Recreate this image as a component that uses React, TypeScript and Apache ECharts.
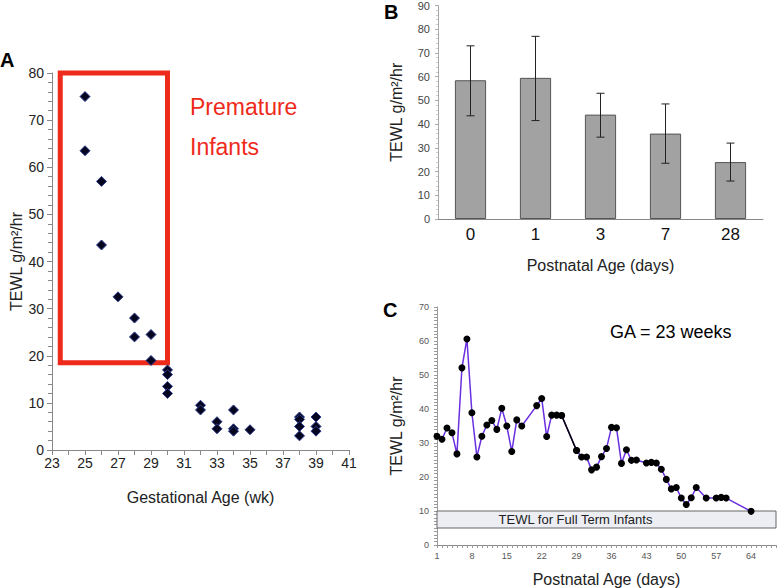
import React, { useEffect, useRef } from "react";
import * as echarts from "echarts";

// Panel A: gestational age (wk) vs TEWL
const gaWeeks = [25, 25, 26, 26, 27, 28, 28, 29, 29, 30, 30, 30, 30, 32, 32, 33, 33, 34, 34, 34, 35, 38, 38, 38, 38, 39, 39, 39];
const gaTewl = [75, 63.5, 57, 43.5, 32.5, 28, 24, 24.5, 19, 17, 16, 13.5, 12, 9.5, 8.5, 6, 4.5, 8.5, 4.5, 4, 4.3, 7, 6.5, 5, 3, 7, 5, 4];
const prematureBox = { x0: 23.5, x1: 30, y0: 18.5, y1: 80 };

// Panel B: postnatal age vs mean TEWL with error bars
const bCategories = ["0", "1", "3", "7", "28"];
const bMeans = [58.5, 59.5, 44, 36, 24];
const bLow = [43.5, 41.5, 34.5, 23.5, 16];
const bHigh = [73, 77, 53, 48.5, 32];

// Panel C: one infant, GA = 23 weeks
const cDays = [1, 2, 3, 4, 5, 6, 7, 8, 9, 10, 11, 12, 13, 14, 15, 16, 17, 18, 21, 22, 23, 24, 25, 26, 29, 30, 31, 32, 33, 34, 35, 36, 37, 38, 39, 40, 41, 43, 44, 45, 46, 47, 48, 49, 50, 51, 52, 53, 55, 57, 58, 59, 64];
const cTewl = [32, 31.1, 34.4, 33, 26.8, 52.1, 60.6, 38.9, 25.9, 32, 35.3, 36.6, 34, 40.2, 35, 27.5, 36.8, 35, 41, 43.1, 31.9, 38.2, 38.2, 38.1, 27.8, 25.9, 25.9, 22.1, 22.9, 26, 28.4, 34.6, 34.5, 24, 28, 24.9, 25, 24.1, 24.3, 24.1, 22.3, 19.3, 16.5, 16.9, 13.8, 11.9, 13.9, 16.9, 13.8, 13.8, 14, 13.8, 9.9];
const blackSegmentDays = [26, 29];
const fullTermBand = [5, 10];

const FONT = "Liberation Sans, Arial, Helvetica, sans-serif";

export default function App() {
  const ref = useRef<HTMLDivElement>(null);

  useEffect(() => {
    if (!ref.current) return;
    const chart = echarts.init(ref.current, null, { renderer: "svg" });

    const scatterData = gaWeeks.map((x, i) => [x, gaTewl[i]]);
    const cData = cDays.map((d, i) => [d, cTewl[i]]);
    const blackSeg = cData.filter((p) => p[0] >= blackSegmentDays[0] && p[0] <= blackSegmentDays[1]);
    const errData = bCategories.map((_, i) => [i, bLow[i], bHigh[i]]);

    const axisLine = { lineStyle: { color: "#888", width: 1 } };

    chart.setOption({
      animation: false,
      textStyle: { fontFamily: FONT },
      grid: [
        { left: 52, top: 73, width: 297, height: 377 },
        { left: 438, top: 4, width: 325, height: 215 },
        { left: 437, top: 307, width: 339, height: 241 },
      ],
      xAxis: [
        {
          gridIndex: 0,
          type: "value",
          min: 23,
          max: 41,
          interval: 2,
          axisLine,
          axisTick: { show: true, length: 5, lineStyle: { color: "#888" } },
          minorTick: { show: true, splitNumber: 2, length: 5, lineStyle: { color: "#888" } },
          splitLine: { show: false },
          axisLabel: { fontSize: 14, color: "#222", fontFamily: FONT, margin: 6 },
          name: "Gestational Age (wk)",
          nameLocation: "middle",
          nameGap: 39,
          nameTextStyle: { fontSize: 16, color: "#222", fontFamily: FONT },
        },
        {
          gridIndex: 1,
          type: "category",
          data: bCategories,
          axisLine,
          axisTick: { show: false },
          axisLabel: { fontSize: 17, color: "#111", fontFamily: FONT, margin: 7 },
          name: "Postnatal Age (days)",
          nameLocation: "middle",
          nameGap: 38,
          nameTextStyle: { fontSize: 16, color: "#222", fontFamily: FONT },
        },
        {
          gridIndex: 2,
          type: "value",
          min: 1,
          max: 69,
          interval: 7,
          axisLine,
          axisTick: { show: true, length: 3, lineStyle: { color: "#999" } },
          minorTick: { show: true, splitNumber: 7, length: 3, lineStyle: { color: "#999" } },
          splitLine: { show: false },
          axisLabel: { fontSize: 9, color: "#555", fontFamily: FONT, margin: 6, showMaxLabel: false },
          name: "Postnatal Age (days)",
          nameLocation: "middle",
          nameGap: 26,
          nameTextStyle: { fontSize: 16, color: "#222", fontFamily: FONT },
        },
      ],
      yAxis: [
        {
          gridIndex: 0,
          type: "value",
          min: 0,
          max: 80,
          interval: 10,
          axisLine: { show: true, lineStyle: { color: "#888" } },
          axisTick: { show: true, length: 5, lineStyle: { color: "#888" } },
          minorTick: { show: true, splitNumber: 5, length: 4, lineStyle: { color: "#888" } },
          splitLine: { show: false },
          axisLabel: { fontSize: 14, color: "#222", fontFamily: FONT, margin: 8 },
          name: "TEWL g/m²/hr",
          nameLocation: "middle",
          nameGap: 28,
          nameTextStyle: { fontSize: 16, color: "#222", fontFamily: FONT },
        },
        {
          gridIndex: 1,
          type: "value",
          min: 0,
          max: 90,
          interval: 10,
          axisLine: { show: true, lineStyle: { color: "#aaa" } },
          axisTick: { show: true, length: 3, lineStyle: { color: "#aaa" } },
          minorTick: { show: true, splitNumber: 5, length: 2, lineStyle: { color: "#ccc" } },
          splitLine: { show: false },
          axisLabel: { fontSize: 11, color: "#444", fontFamily: FONT, margin: 8 },
          name: "TEWL g/m²/hr",
          nameLocation: "middle",
          nameGap: 34,
          nameTextStyle: { fontSize: 16, color: "#222", fontFamily: FONT },
        },
        {
          gridIndex: 2,
          type: "value",
          min: 0,
          max: 70,
          interval: 10,
          axisLine: { show: true, lineStyle: { color: "#999" } },
          axisTick: { show: true, length: 3, lineStyle: { color: "#999" } },
          minorTick: { show: true, splitNumber: 10, length: 3, lineStyle: { color: "#999" } },
          splitLine: { show: false },
          axisLabel: { fontSize: 9, color: "#555", fontFamily: FONT, margin: 8 },
          name: "TEWL g/m²/hr",
          nameLocation: "middle",
          nameGap: 33,
          nameTextStyle: { fontSize: 16, color: "#222", fontFamily: FONT },
        },
      ],
      series: [
        {
          type: "scatter",
          xAxisIndex: 0,
          yAxisIndex: 0,
          data: scatterData,
          symbol: "diamond",
          symbolSize: 10,
          itemStyle: { color: "#050520", borderColor: "#2a3a8a", borderWidth: 1, opacity: 1 },
          markArea: {
            silent: true,
            itemStyle: { color: "rgba(0,0,0,0)", borderColor: "#ee2a1b", borderWidth: 5 },
            data: [[{ coord: [prematureBox.x0, prematureBox.y1] }, { coord: [prematureBox.x1, prematureBox.y0] }]],
          },
          z: 3,
        },
        {
          type: "bar",
          xAxisIndex: 1,
          yAxisIndex: 1,
          data: bMeans,
          barWidth: "48%",
          itemStyle: { color: "#a2a2a2", borderColor: "#555", borderWidth: 1 },
        },
        {
          type: "custom",
          xAxisIndex: 1,
          yAxisIndex: 1,
          data: errData,
          z: 5,
          renderItem: (params: any, api: any) => {
            const x = api.value(0);
            const lo = api.coord([x, api.value(1)]);
            const hi = api.coord([x, api.value(2)]);
            const w = 4;
            const style = { stroke: "#222", lineWidth: 1 };
            return {
              type: "group",
              children: [
                { type: "line", shape: { x1: lo[0], y1: lo[1], x2: hi[0], y2: hi[1] }, style },
                { type: "line", shape: { x1: lo[0] - w, y1: lo[1], x2: lo[0] + w, y2: lo[1] }, style },
                { type: "line", shape: { x1: hi[0] - w, y1: hi[1], x2: hi[0] + w, y2: hi[1] }, style },
              ],
            };
          },
        },
        {
          type: "line",
          xAxisIndex: 2,
          yAxisIndex: 2,
          data: cData,
          symbol: "circle",
          symbolSize: 7,
          showSymbol: true,
          lineStyle: { color: "#6a2fe0", width: 1.5 },
          itemStyle: { color: "#000" },
          z: 3,
          markArea: {
            silent: true,
            itemStyle: { color: "#eceef4", borderColor: "#666", borderWidth: 1 },
            label: {
              show: true,
              position: "inside",
              offset: [-31, 0],
              color: "#222",
              fontSize: 13,
              fontFamily: FONT,
            },
            data: [[{ yAxis: fullTermBand[1], name: "TEWL for Full Term Infants" }, { yAxis: fullTermBand[0] }]],
          },
        },
        {
          type: "line",
          xAxisIndex: 2,
          yAxisIndex: 2,
          data: blackSeg,
          symbol: "circle",
          symbolSize: 7,
          lineStyle: { color: "#000", width: 1.5 },
          itemStyle: { color: "#000" },
          z: 4,
        },
      ],
      graphic: [
        { type: "text", x: 0, y: 60, style: { text: "A", fontSize: 20, fontWeight: "bold", fontFamily: FONT, fill: "#000", verticalAlign: "middle" } },
        { type: "text", x: 384, y: 12, style: { text: "B", fontSize: 20, fontWeight: "bold", fontFamily: FONT, fill: "#000", verticalAlign: "middle" } },
        { type: "text", x: 383, y: 310, style: { text: "C", fontSize: 20, fontWeight: "bold", fontFamily: FONT, fill: "#000", verticalAlign: "middle" } },
        { type: "text", x: 190, y: 107, style: { text: "Premature", fontSize: 23, fontFamily: FONT, fill: "#ee2a1b", verticalAlign: "middle" } },
        { type: "text", x: 190, y: 147, style: { text: "Infants", fontSize: 23, fontFamily: FONT, fill: "#ee2a1b", verticalAlign: "middle" } },
        { type: "text", x: 610, y: 332, style: { text: "GA = 23 weeks", fontSize: 18, fontFamily: FONT, fill: "#000", verticalAlign: "middle" } },
      ],
    });

    return () => chart.dispose();
  }, []);

  return (
    <div
      ref={ref}
      style={{ position: "fixed", left: 0, top: 0, width: 777, height: 588, background: "#fff" }}
    />
  );
}
